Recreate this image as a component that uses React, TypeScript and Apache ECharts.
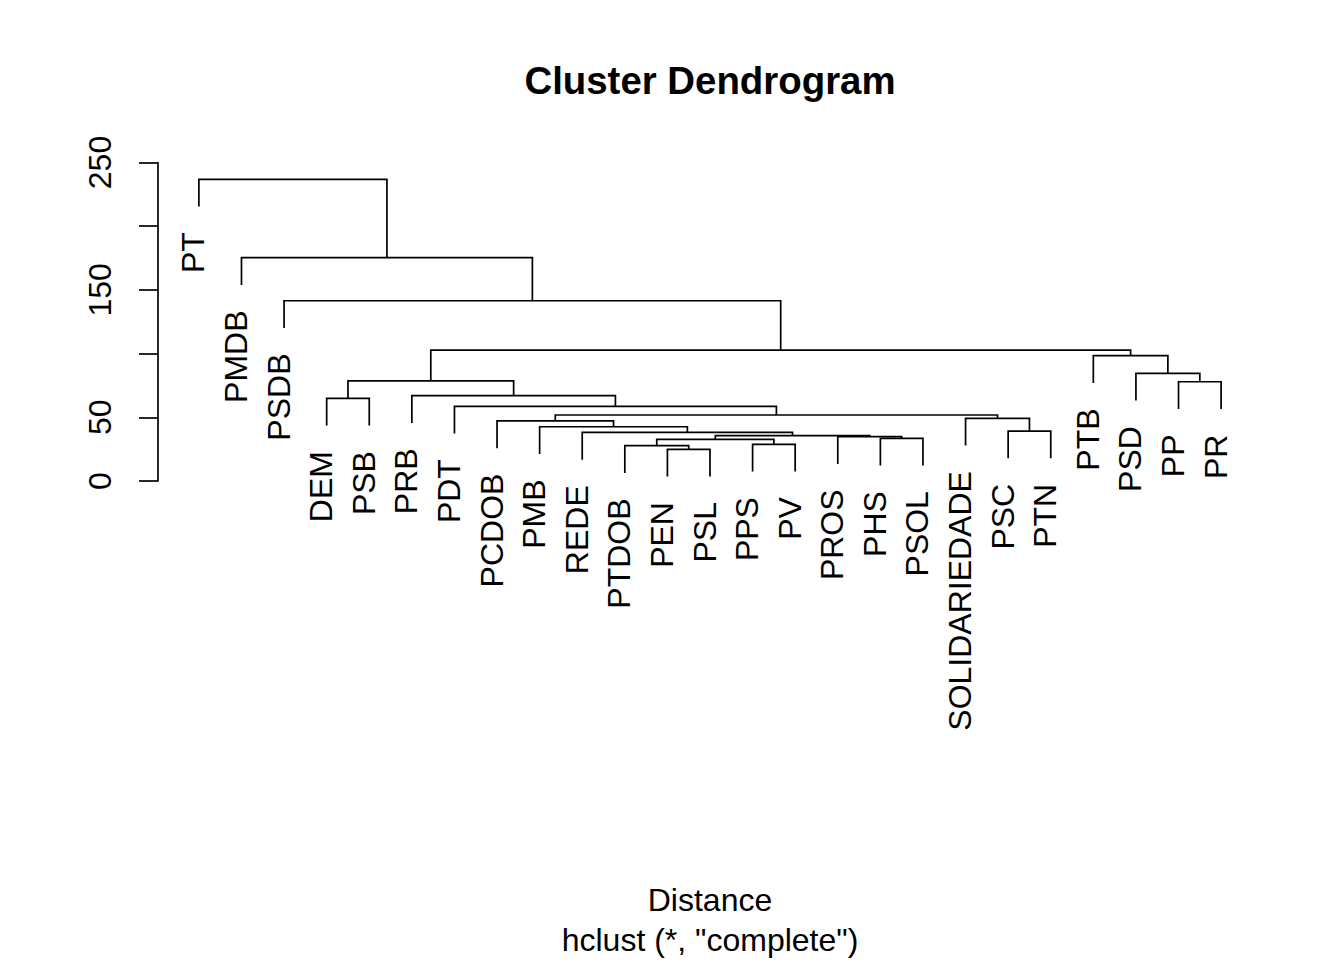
import React, { useEffect, useRef } from "react";
import * as echarts from "echarts";

// Leaf labels in dendrogram order (left to right)
const leafLabels = [
  "PT", "PMDB", "PSDB", "DEM", "PSB", "PRB", "PDT", "PCDOB", "PMB", "REDE",
  "PTDOB", "PEN", "PSL", "PPS", "PV", "PROS", "PHS", "PSOL", "SOLIDARIEDADE",
  "PSC", "PTN", "PTB", "PSD", "PP", "PR",
];

// Merge steps (R hclust style): negative = leaf position (1-based), positive = earlier merge step
const mergeLeft = [-12, -11, -14, 2, -17, -16, 4, -10, -9, -8, -20, -19, 10, -7, -6, -4, 16, -24, -23, -22, 17, -3, -2, -1];
const mergeRight = [-13, 1, -15, 3, -18, 5, 6, 7, 8, 9, -21, 11, 12, 13, 14, -5, 15, -25, 18, 19, 20, 21, 22, 23];
const mergeHeight = [24.9, 27.7, 28.8, 32.7, 33.5, 34.8, 35.6, 38.1, 42.6, 47.2, 39.2, 49.2, 51.8, 58.6, 67.0, 64.9, 78.6, 77.9, 84.5, 98.4, 102.8, 141.5, 175.3, 236.8];

// y axis ticks and which ones carry a label
const yTicks = [0, 50, 100, 150, 200, 250];
const yTickLabels = ["0", "50", "", "150", "", "250"];

const titleText = "Cluster Dendrogram";
const xAxisTitle = "Distance";
const subTitle = 'hclust (*, "complete")';

const HANG = 21.4;
const FONT = "'Liberation Sans', Arial, Helvetica, sans-serif";

export default function App() {
  const ref = useRef<HTMLDivElement>(null);

  useEffect(() => {
    const chart = echarts.init(ref.current!, null, { renderer: "svg" });

    const nodeX: number[] = [];
    const segs: number[][] = [];
    const leafItems: number[][] = [];
    const posOf = (r: number) => (r < 0 ? -r : nodeX[r - 1]);
    for (let i = 0; i < mergeHeight.length; i++) {
      const h = mergeHeight[i];
      const l = mergeLeft[i];
      const r = mergeRight[i];
      const xl = posOf(l);
      const xr = posOf(r);
      const yl = l < 0 ? h - HANG : mergeHeight[l - 1];
      const yr = r < 0 ? h - HANG : mergeHeight[r - 1];
      if (l < 0) leafItems.push([-l, h - HANG, -l - 1]);
      if (r < 0) leafItems.push([-r, h - HANG, -r - 1]);
      segs.push([xl, yl, xr, yr, h]);
      nodeX.push((xl + xr) / 2);
    }

    const option: any = {
      animation: false,
      backgroundColor: "#ffffff",
      grid: { left: 158, right: 82, top: 162.5, bottom: 479, containLabel: false },
      xAxis: { type: "value", min: 0.04, max: 25.96, show: false },
      yAxis: {
        type: "value",
        min: 0,
        max: 250,
        interval: 50,
        axisLine: { show: true, lineStyle: { color: "#000", width: 1.7 } },
        axisTick: { show: true, length: 19, lineStyle: { color: "#000", width: 1.7 } },
        splitLine: { show: false },
        axisLabel: {
          rotate: 90,
          margin: 58,
          align: "center",
          verticalAlign: "middle",
          fontSize: 32,
          fontFamily: FONT,
          color: "#000",
          formatter: (v: number) => {
            const k = yTicks.indexOf(v);
            return k >= 0 ? yTickLabels[k] : "";
          },
        },
      },
      series: [
        {
          type: "custom",
          data: segs,
          clip: false,
          silent: true,
          renderItem: (params: any, api: any) => {
            const xl = api.value(0);
            const yl = api.value(1);
            const xr = api.value(2);
            const yr = api.value(3);
            const h = api.value(4);
            const pts = [
              api.coord([xl, yl]),
              api.coord([xl, h]),
              api.coord([xr, h]),
              api.coord([xr, yr]),
            ];
            return {
              type: "polyline",
              shape: { points: pts },
              style: { stroke: "#000", lineWidth: 1.7, fill: "none" },
            };
          },
        },
        {
          type: "custom",
          data: leafItems,
          clip: false,
          silent: true,
          renderItem: (params: any, api: any) => {
            const p = api.coord([api.value(0), api.value(1)]);
            const idx = api.value(2);
            return {
              type: "text",
              x: p[0] - 5.5,
              y: p[1] + 25.5,
              rotation: Math.PI / 2,
              style: {
                text: leafLabels[idx],
                fill: "#000",
                font: `32px ${FONT}`,
                align: "right",
                verticalAlign: "middle",
              },
            };
          },
        },
      ],
      graphic: [
        {
          type: "text",
          x: 710,
          y: 80,
          style: { text: titleText, fill: "#000", font: `bold 38.4px ${FONT}`, align: "center", verticalAlign: "middle" },
        },
        {
          type: "text",
          x: 710,
          y: 900,
          style: { text: xAxisTitle, fill: "#000", font: `32px ${FONT}`, align: "center", verticalAlign: "middle" },
        },
        {
          type: "text",
          x: 710,
          y: 940,
          style: { text: subTitle, fill: "#000", font: `32px ${FONT}`, align: "center", verticalAlign: "middle" },
        },
      ],
    };

    chart.setOption(option);
    return () => chart.dispose();
  }, []);

  return (
    <div
      ref={ref}
      style={{ position: "fixed", left: 0, top: 0, width: 1344, height: 960, background: "#fff" }}
    />
  );
}
